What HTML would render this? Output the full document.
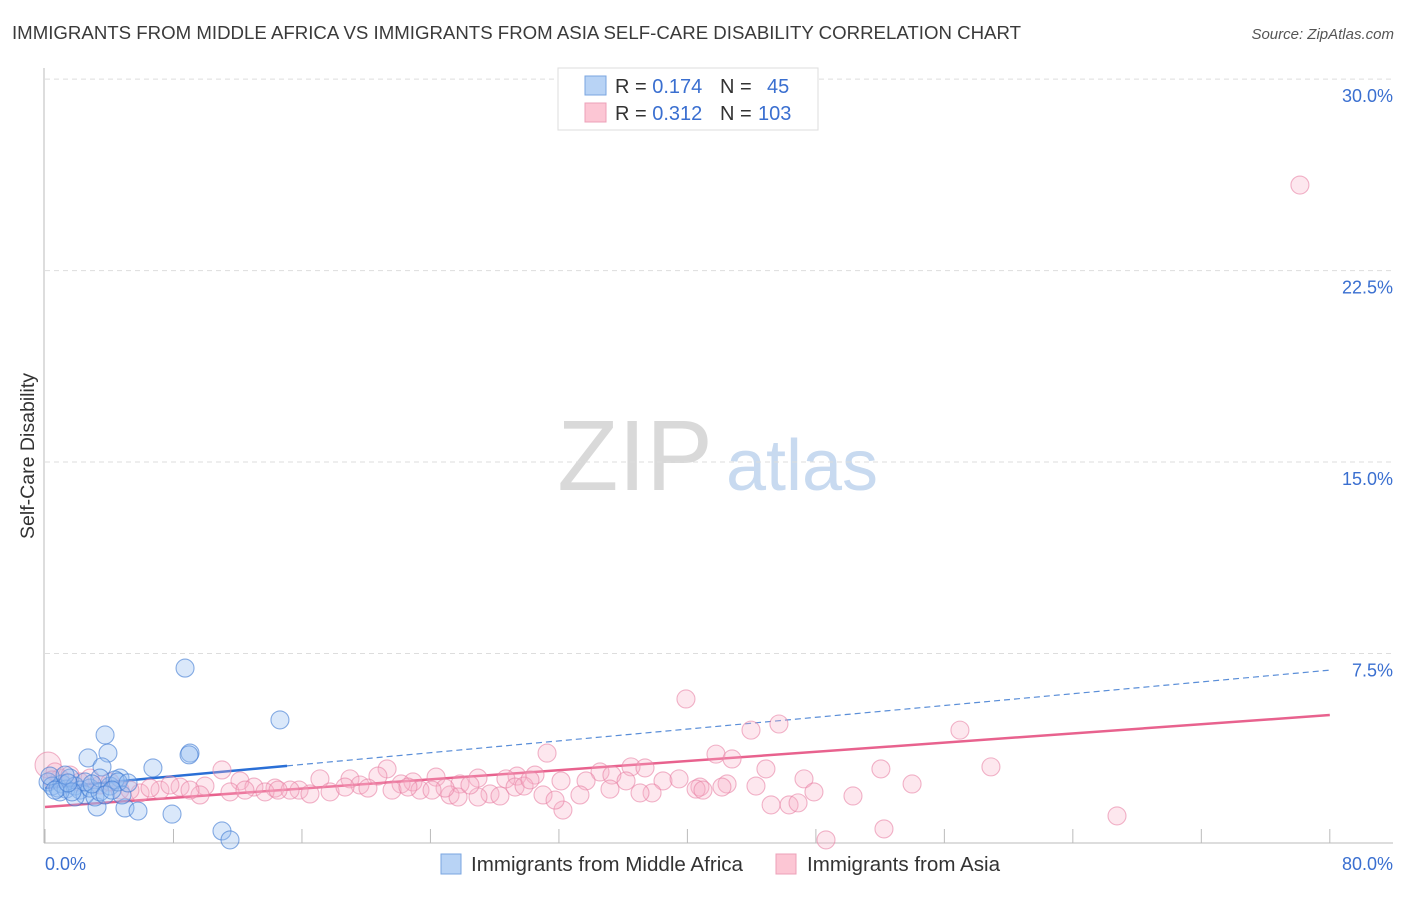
<!DOCTYPE html>
<html><head><meta charset="utf-8"><style>
body{margin:0;background:#fff;font-family:"Liberation Sans",sans-serif}
svg text{font-family:"Liberation Sans",sans-serif}
</style></head><body>
<svg id="chart" width="1406" height="892" viewBox="0 0 1406 892">
<text x="12" y="39" font-size="18" fill="#3a3a3a" textLength="1009" lengthAdjust="spacingAndGlyphs">IMMIGRANTS FROM MIDDLE AFRICA VS IMMIGRANTS FROM ASIA SELF-CARE DISABILITY CORRELATION CHART</text>
<text x="1394" y="39" font-size="15" fill="#555" font-style="italic" text-anchor="end">Source: ZipAtlas.com</text>
<text transform="translate(34,456) rotate(-90)" font-size="19" fill="#333" text-anchor="middle" textLength="166" lengthAdjust="spacingAndGlyphs">Self-Care Disability</text>
<g>
<text x="635" y="490" font-size="100" fill="#d9d9d9" font-family="Liberation Serif,serif" text-anchor="middle">ZIP</text>
<text x="802" y="490" font-size="72" fill="#c8daf0" text-anchor="middle">atlas</text>
</g>
<g id="grid"></g><g id="axes"></g><g id="trend"></g><g id="pts"></g>
<g>
<rect x="558" y="68" width="260" height="62" fill="#fff" stroke="#ddd"/>
<rect x="585" y="76" width="21" height="19" fill="#b8d3f5" stroke="#7aa6e0"/>
<rect x="585" y="103" width="21" height="19" fill="#fcc6d4" stroke="#eca0b8"/>
<text x="615" y="93" font-size="20" fill="#333">R = <tspan fill="#3a6fd0">0.174</tspan><tspan x="720">N = </tspan><tspan x="767" fill="#3a6fd0">45</tspan></text>
<text x="615" y="120" font-size="20" fill="#333">R = <tspan fill="#3a6fd0">0.312</tspan><tspan x="720">N = </tspan><tspan x="758" fill="#3a6fd0">103</tspan></text>
</g>
<g>
<rect x="441" y="854" width="20" height="20" fill="#b8d3f5" stroke="#7aa6e0"/>
<text x="471" y="871" font-size="20" fill="#333" textLength="272" lengthAdjust="spacingAndGlyphs">Immigrants from Middle Africa</text>
<rect x="776" y="854" width="20" height="20" fill="#fcc6d4" stroke="#eca0b8"/>
<text x="807" y="871" font-size="20" fill="#333" textLength="193" lengthAdjust="spacingAndGlyphs">Immigrants from Asia</text>
</g>
</svg>
<script>
const yTicks=[7.5,15,22.5,30];
const yTickLabels=["7.5%","15.0%","22.5%","30.0%"];
const xTickVals=[0,8,16,24,32,40,48,56,64,72,80];
const xEndLabels=["0.0%","80.0%"];
const blueX=[8.72,14.63,3.74,3.92,2.68,9.03,8.97,6.72,3.55,7.91,11.02,11.52,3.24,4.98,5.79,4.67,0.19,0.44,0.81,1.06,1.31,1.56,1.87,2.18,2.49,2.8,3.11,3.42,4.05,4.36,4.79,1.87,0.93,2.49,0.31,1.25,3.42,4.55,0.62,1.68,2.93,3.74,4.17,5.17,1.43];
const blueY=[6.93,4.9,4.31,3.6,3.41,3.6,3.53,3.02,3.06,1.21,0.55,0.2,1.49,1.45,1.33,2.62,2.47,2.31,2.23,2.39,2.19,2.62,2.31,2.15,1.96,2.23,1.88,2.08,2.31,2.55,1.96,1.88,2.08,2.47,2.7,2.74,2.62,2.47,2.15,2.08,2.39,1.96,2.15,2.43,2.43];
const pinkX=[78.14,39.91,45.7,43.96,56.97,31.26,41.78,42.78,58.9,52.05,44.89,36.49,37.36,21.3,11.02,34.56,35.3,24.35,29.39,30.51,26.96,28.7,22.91,17.12,18.99,20.73,22.17,25.84,32.13,33.69,36.18,38.48,39.48,47.26,40.78,42.47,44.27,53.99,15.82,17.75,19.61,12.14,13.01,14.32,9.96,8.41,7.16,5.92,4.67,3.42,2.18,0.93,0.19,0.62,1.56,25.22,27.71,28.33,31.01,25.72,33.31,37.8,40.54,47.88,50.31,45.21,46.33,46.89,32.25,31.76,66.75,52.24,48.63,9.65,11.52,13.7,15.26,16.5,18.68,20.11,23.35,24.91,26.96,29.27,29.83,35.18,37.05,40.97,42.15,0.44,2.8,4.05,5.29,6.54,7.78,9.03,12.45,14.51,21.61,22.6,24.1,26.46,30.2];
const pinkY=[25.85,5.72,4.74,4.5,4.5,3.6,3.56,3.37,3.06,2.98,2.98,3.06,3.02,2.98,2.94,2.86,2.74,2.66,2.7,2.74,2.62,2.59,2.47,2.59,2.59,2.7,2.39,2.39,2.51,2.51,2.51,2.51,2.59,2.59,2.27,2.39,2.31,2.39,2.15,2.08,2.35,2.51,2.27,2.23,2.31,2.27,2.15,2.04,2.15,2.35,2.47,2.62,3.13,2.86,2.74,1.96,2.0,1.92,1.96,1.88,1.96,2.04,2.19,2.08,1.92,1.57,1.57,1.65,1.37,1.76,1.14,0.63,0.2,1.96,2.08,2.08,2.15,2.0,2.27,2.23,2.15,2.23,1.88,2.27,2.31,2.19,2.04,2.15,2.27,2.55,2.62,2.47,2.15,2.23,2.35,2.15,2.15,2.15,2.15,2.27,2.15,2.35,2.55];
const blueTrend=[2.23,6.85];
const pinkTrend=[1.49,5.09];
const blueTrendSolidEnd=15.07;
const NS="http://www.w3.org/2000/svg";
const X=v=>45+v*16.06, Y=v=>845-v*25.53;
function mk(g,tag,at){const e=document.createElementNS(NS,tag);for(const k in at)e.setAttribute(k,at[k]);document.getElementById(g).appendChild(e);return e;}
yTicks.forEach((t,i)=>{
 const l=mk('grid','line',{x1:45,x2:1393,y1:Y(t),y2:Y(t),stroke:'#ddd','stroke-dasharray':'5,4'});
 
 
 const tx=mk('grid','text',{x:1393,y:Y(t)+23,'font-size':18,fill:'#3a6fd0','text-anchor':'end'});
 tx.textContent=yTickLabels[i];
 
 
});
const ya=mk('axes','line',{x1:44,x2:44,y1:68,y2:843,stroke:'#bbb'});


const xa=mk('axes','line',{x1:44,x2:1393,y1:843,y2:843,stroke:'#bbb'});


xTickVals.forEach(v=>{
 const t=mk('axes','line',{x1:X(v),x2:X(v),y1:829,y2:843,stroke:'#bbb'});
 
 
});
const xl0=mk('axes','text',{x:45,y:870,'font-size':18,fill:'#3a6fd0'});xl0.textContent=xEndLabels[0];


const xl1=mk('axes','text',{x:1393,y:870,'font-size':18,fill:'#3a6fd0','text-anchor':'end'});xl1.textContent=xEndLabels[1];


function pts(xs,ys,fill,stroke,name){xs.forEach((x,i)=>{
 const c=mk('pts','circle',{cx:X(x),cy:Y(ys[i]),r:(name==='pink-point'&&i===52)?13:9,fill:fill,stroke:stroke,'stroke-width':1.1});
 
 
});}
pts(pinkX,pinkY,'rgba(248,175,198,0.3)','rgba(232,130,165,0.6)','pink-point');
pts(blueX,blueY,'rgba(150,190,240,0.35)','rgba(60,120,210,0.6)','blue-point');
const bt=v=>blueTrend[0]+(blueTrend[1]-blueTrend[0])*v/80;
const pl=mk('trend','line',{x1:X(0),y1:Y(pinkTrend[0]),x2:X(80),y2:Y(pinkTrend[1]),stroke:'#e8628e','stroke-width':2.5});


const bd=mk('trend','line',{x1:X(blueTrendSolidEnd),y1:Y(bt(blueTrendSolidEnd)),x2:X(80),y2:Y(bt(80)),stroke:'#5a8ed8','stroke-width':1.2,'stroke-dasharray':'6,4'});


const bl=mk('trend','line',{x1:X(0),y1:Y(bt(0)),x2:X(blueTrendSolidEnd),y2:Y(bt(blueTrendSolidEnd)),stroke:'#2a6fd6','stroke-width':2.5});


</script>
</body></html>
